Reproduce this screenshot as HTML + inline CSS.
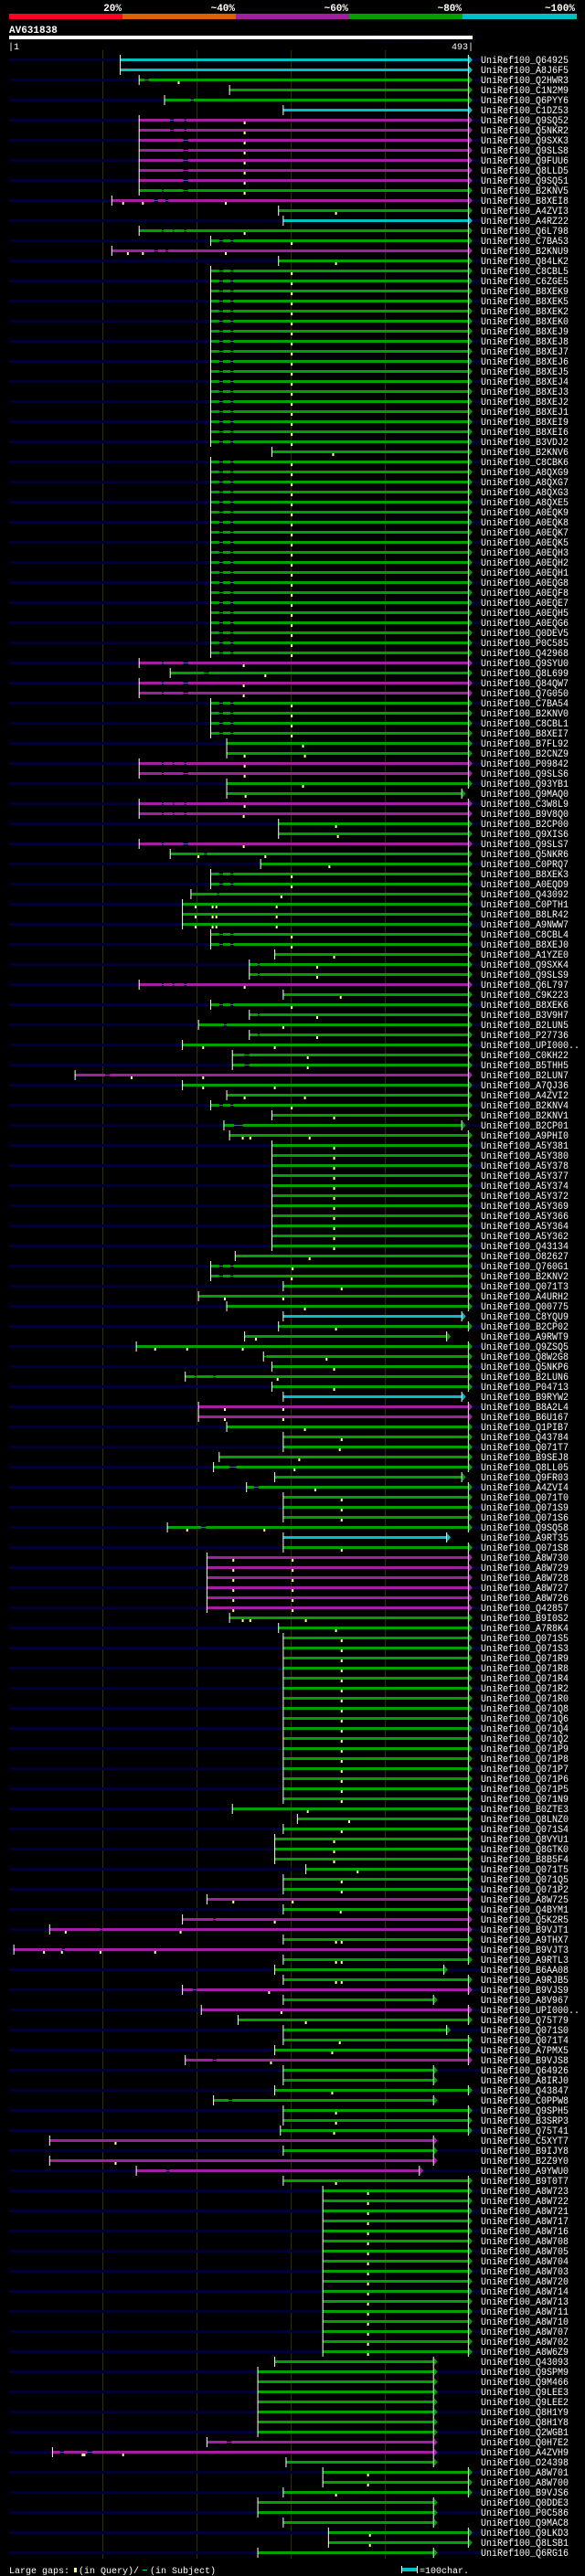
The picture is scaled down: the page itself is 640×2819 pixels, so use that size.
<!DOCTYPE html>
<html><head><meta charset="utf-8">
<style>
html,body{margin:0;padding:0;background:#000;}
svg{display:block;}
text{font-family:"Liberation Mono","DejaVu Sans Mono",monospace;}
</style></head>
<body>
<svg id="chart" width="640" height="2819" viewBox="0 0 640 2819" xmlns="http://www.w3.org/2000/svg">
<rect x="0" y="0" width="640" height="2819" fill="#000"/>
<g>
<text x="133" y="12" fill="#fff" font-size="11" font-weight="bold" text-anchor="end">20%</text>
<text x="257" y="12" fill="#fff" font-size="11" font-weight="bold" text-anchor="end">~40%</text>
<text x="381" y="12" fill="#fff" font-size="11" font-weight="bold" text-anchor="end">~60%</text>
<text x="505" y="12" fill="#fff" font-size="11" font-weight="bold" text-anchor="end">~80%</text>
<text x="629" y="12" fill="#fff" font-size="11" font-weight="bold" text-anchor="end">~100%</text>
<rect x="10" y="15" width="124" height="6" fill="#ff0022"/>
<rect x="134" y="15" width="124" height="6" fill="#e06000"/>
<rect x="258" y="15" width="124" height="6" fill="#a020a0"/>
<rect x="382" y="15" width="124" height="6" fill="#00a000"/>
<rect x="506" y="15" width="125" height="6" fill="#00c0c0"/>
</g>
<text x="10" y="36" fill="#fff" font-size="11" font-weight="bold">AV631838</text>
<text x="402" y="45" fill="#000044" font-size="9">AlignView.pm Beta rel.7</text>
<rect x="10" y="39" width="507" height="4" fill="#fff"/>
<text x="9" y="54" fill="#fff" font-size="10">|1</text>
<text x="518" y="54" fill="#fff" font-size="10" text-anchor="end">493|</text>
<g id="grid"></g>
<g id="rows"></g>
<g>
<text x="10" y="2816" fill="#fff" font-size="10">Large gaps:</text>
<rect x="81" y="2810" width="3" height="5" fill="#ffff80"/>
<text x="86" y="2816" fill="#fff" font-size="10">(in Query)/</text>
<rect x="156" y="2812" width="5" height="1" fill="#00c0c0"/>
<text x="164" y="2816" fill="#fff" font-size="10">(in Subject)</text>
<rect x="439" y="2808" width="1" height="8" fill="#fff"/>
<rect x="440" y="2810" width="16" height="4" fill="#00c0c0"/>
<rect x="456" y="2808" width="1" height="8" fill="#fff"/>
<text x="459" y="2816" fill="#fff" font-size="10">=100char.</text>
</g>
</svg>
<script>
const names=["Q64925","A8J6F5","Q2HWR3","C1N2M9","Q6PYY6","C1DZ53","Q9SQ52","Q5NKR2","Q9SXK3","Q9SLS8",
"Q9FUU6","Q8LLD5","Q9SQ51","B2KNV5","B8XEI8","A4ZVI3","A4RZ22","Q6L798","C7BA53","B2KNU9",
"Q84LK2","C8CBL5","C6ZGE5","B8XEK9","B8XEK5","B8XEK2","B8XEK0","B8XEJ9","B8XEJ8","B8XEJ7",
"B8XEJ6","B8XEJ5","B8XEJ4","B8XEJ3","B8XEJ2","B8XEJ1","B8XEI9","B8XEI6","B3VDJ2","B2KNV6",
"C8CBK6","A8QXG9","A8QXG7","A8QXG3","A8QXE5","A0EQK9","A0EQK8","A0EQK7","A0EQK5","A0EQH3",
"A0EQH2","A0EQH1","A0EQG8","A0EQF8","A0EQE7","A0EQH5","A0EQG6","Q0DEV5","P0C585","Q42968",
"Q9SYU0","Q8L699","Q84QW7","Q7G050","C7BA54","B2KNV0","C8CBL1","B8XEI7","B7FL92","B2CNZ9",
"P09842","Q9SLS6","Q93YB1","Q9MAQ0","C3W8L9","B9V8Q0","B2CP00","Q9XIS6","Q9SLS7","Q5NKR6",
"C0PRQ7","B8XEK3","A0EQD9","Q43092","C0PTH1","B8LR42","A9NWW7","C8CBL4","B8XEJ0","A1YZE0",
"Q9SXK4","Q9SLS9","Q6L797","C9K223","B8XEK6","B3V9H7","B2LUN5","P27736","UPI000..","C0KH22",
"B5THH5","B2LUN7","A7QJ36","A4ZVI2","B2KNV4","B2KNV1","B2CP01","A9PHI0","A5Y381","A5Y380",
"A5Y378","A5Y377","A5Y374","A5Y372","A5Y369","A5Y366","A5Y364","A5Y362","Q43134","O82627",
"Q760G1","B2KNV2","Q071T3","A4URH2","Q00775","C8YQU9","B2CP02","A9RWT9","Q9ZSQ5","Q8W2G8",
"Q5NKP6","B2LUN6","P04713","B9RYW2","B8A2L4","B6U167","Q1PIB7","Q43784","Q071T7","B9SEJ8",
"Q8LL05","Q9FR03","A4ZVI4","Q071T0","Q071S9","Q071S6","Q9SQ58","A9RT35","Q071S8","A8W730",
"A8W729","A8W728","A8W727","A8W726","Q42857","B9I0S2","A7R8K4","Q071S5","Q071S3","Q071R9",
"Q071R8","Q071R4","Q071R2","Q071R0","Q071Q8","Q071Q6","Q071Q4","Q071Q2","Q071P9","Q071P8",
"Q071P7","Q071P6","Q071P5","Q071N9","B0ZTE3","Q8LNZ0","Q071S4","Q8VYU1","Q8GTK0","B8B5F4",
"Q071T5","Q071Q5","Q071P2","A8W725","Q4BYM1","Q5K2R5","B9VJT1","A9THX7","B9VJT3","A9RTL3",
"B6AA08","A9RJB5","B9VJS9","A8V967","UPI000..","Q75T79","Q071S0","Q071T4","A7PMX5","B9VJS8",
"Q64926","A8IRJ0","Q43847","C0PPW8","Q9SPH5","B3SRP3","Q75T41","C5XYT7","B9IJY8","B2Z9Y0",
"A9YWU0","B9T0T7","A8W723","A8W722","A8W721","A8W717","A8W716","A8W708","A8W705","A8W704",
"A8W703","A8W720","A8W714","A8W713","A8W711","A8W710","A8W707","A8W702","A8W6Z9","Q43093",
"Q9SPM9","Q9M466","Q9LEE3","Q9LEE2","Q8H1Y9","Q8H1Y8","Q2WGB1","Q0H7E2","A4ZVH9","O24398",
"A8W701","A8W700","B9VJS6","Q0DDE3","P0C586","Q9MAC8","Q9LKD3","Q8LSB1","Q6RG16"];

const colorCodes="CCGGGCMMMM"+"MMMGMGCGGM"+"GGGGGGGGGG"+"GGGGGGGGGG"+"GGGGGGGGGG"+"GGGGGGGGGG"+
"MGMMGGGGGG"+"MMGGMMGGMG"+"GGGGGGGGGG"+"GGMGGGGGGG"+"GMGGGGGGGG"+"GGGGGGGGGG"+
"GGGGGCGGGG"+"GGGCMMGGGG"+"GGGGGGGCGM"+"MMMMMGGGGG"+"GGGGGGGGGG"+"GGGGGGGGGG"+
"GGGMGMMGMG"+"GGMGMGGGGM"+"GGGGGGGMGM"+"MGGGGGGGGG"+"GGGGGGGGGG"+"GGGGGGGMMG"+"GGGGGGGGG";

const starts=[119,119,139,235,166,292,139,139,139,139,
139,139,139,139,110,287,292,139,215,110,
287,215,215,215,215,215,215,215,215,215,
215,215,215,215,215,215,215,215,215,280,
215,215,215,215,215,215,215,215,215,215,
215,215,215,215,215,215,215,215,215,215,
139,172,139,139,215,215,215,215,232,232,
139,139,232,232,139,139,287,287,139,172,
268,215,215,194,185,185,185,215,215,283,
256,256,139,292,215,256,202,256,185,238,
238,71,185,232,215,280,229,235,280,280,
280,280,280,280,280,280,280,280,280,241,
215,215,292,202,232,292,287,251,136,271,
280,188,280,292,202,202,232,292,292,224,
218,283,253,292,292,292,169,292,292,211,
211,211,211,211,211,235,287,292,292,292,
292,292,292,292,292,292,292,292,292,292,
292,292,292,292,238,307,292,283,283,283,
316,292,292,211,292,185,44,292,6,292,
283,292,185,292,205,244,292,292,283,188,
292,292,283,218,292,292,289,44,292,44,
136,292,334,334,334,334,334,334,334,334,
334,334,334,334,334,334,334,334,334,283,
265,265,265,265,265,265,265,211,47,295,
334,334,292,265,265,292,340,340,265];

const ends=[488,488,488,488,488,488,488,488,488,488,
488,488,488,488,488,488,488,488,488,488,
488,488,488,488,488,488,488,488,488,488,
488,488,488,488,488,488,488,488,488,488,
488,488,488,488,488,488,488,488,488,488,
488,488,488,488,488,488,488,488,488,488,
488,488,488,488,488,488,488,488,488,488,
488,488,488,481,488,488,488,488,488,488,
488,488,488,488,488,488,488,488,488,488,
488,488,488,488,488,488,488,488,488,488,
488,488,488,488,488,488,481,488,488,488,
488,488,488,488,488,488,488,488,488,488,
488,488,488,488,488,481,488,465,488,488,
488,488,488,481,488,488,488,488,488,488,
488,481,488,488,488,488,488,465,488,488,
488,488,488,488,488,488,488,488,488,488,
488,488,488,488,488,488,488,488,488,488,
488,488,488,488,488,488,488,488,488,488,
488,488,488,488,488,488,488,488,488,488,
462,488,488,451,488,488,465,488,488,488,
451,451,488,451,488,488,488,451,451,451,
436,488,488,488,488,488,488,488,488,488,
488,488,488,488,488,488,488,488,488,451,
451,451,451,451,451,451,451,451,451,451,
488,488,488,451,451,451,488,488,451];

const N=[];
const GA=[[172,176],[187,189]];
const GB=[[186,191]];
const GC=[[163,165],[186,191]];
const GD=[[155,159],[167,170]];
const GE=[[163,165],[175,176],[187,189]];
const GF=[[224,228],[236,239]];
const GH=[[265,267]];
const GI=[[251,256]];
const subjectGaps=[N,N,[[145,149]],N,[[194,197]],N,GA,GA,GB,GB,
GB,GB,GB,GC,GD,N,N,GE,GF,GD,
N,GF,GF,GF,GF,GF,GF,GF,GF,GF,
GF,GF,GF,GF,GF,GF,GF,GF,GF,N,
GF,GF,GF,GF,GF,GF,GF,GF,GF,GF,
GF,GF,GF,GF,GF,GF,GF,GF,GF,GF,
GC,[[208,213]],GC,GC,GF,GF,GF,GF,N,N,
GE,GC,N,N,GE,GE,N,N,GC,[[208,211]],
N,GF,GF,[[222,224]],N,N,N,GF,GF,N,
GH,GH,GE,N,GF,GH,[[229,232]],GH,N,GI,
GI,[[103,108]],N,N,GF,N,[[240,249]],N,N,N,
N,N,N,N,N,N,N,N,N,N,
GF,GF,N,N,N,N,N,N,N,[[272,274]],
N,[[198,200],[218,220]],N,N,N,N,N,N,N,N,
[[235,242]],N,[[261,266]],N,N,N,[[205,210]],N,N,N,
N,N,N,N,N,N,N,N,N,N,
N,N,N,N,N,N,N,N,N,N,
N,N,N,N,N,N,N,N,N,N,
N,N,N,N,N,[[218,220]],[[98,100]],N,[[57,60]],N,
N,N,[[196,200]],N,N,N,N,N,N,[[217,221]],
N,N,N,[[234,238]],N,N,N,N,N,N,
[[168,171]],N,N,N,N,N,N,N,N,N,
N,N,N,N,N,N,N,N,N,N,
N,N,N,N,N,N,N,[[232,237]],[[55,59],[84,89]],N,
N,N,N,N,N,N,N,N,N];

const Q1=[251],Q2=[301],Q3=[346],Q4=[354],Q5=[382],Q6=[239,302];
const queryGaps=[N,N,[181],N,N,N,Q1,Q1,Q1,Q1,
Q1,Q1,Q1,Q1,[122,143,231],[348],N,Q1,Q2,[127,143,231],
[348],Q2,Q2,Q2,Q2,Q2,Q2,Q2,Q2,Q2,
Q2,Q2,Q2,Q2,Q2,Q2,Q2,Q2,Q2,[345],
Q2,Q2,Q2,Q2,Q2,Q2,Q2,Q2,Q2,Q2,
Q2,Q2,Q2,Q2,Q2,Q2,Q2,Q2,Q2,Q2,
[250],[273],[250],[250],Q2,Q2,Q2,Q2,[313],[251,315],
Q1,Q1,[313],[252],Q1,[250],[348],[350],[250],[202,273],
[341],Q2,Q2,[290],[199,217,221,285],[199,217,221,285],[199,217,221,285],Q2,Q2,Q3,
[328],[328],Q1,[353],Q2,[328],[292],[328],[207,283],[318],
[318],[131,207],[207,283],[251,315],Q2,Q3,N,[249,257,320],Q3,Q3,
Q3,Q3,Q3,Q3,Q3,Q3,Q3,Q3,Q3,[320],
[302],Q2,Q4,[230,292],[315],N,[348],[263],[156,190,249],[338],
Q3,[286],Q3,N,[230,292],[230,292],[315],Q4,[352],[309],
[304],N,[326],Q4,Q4,Q4,[190,272],N,Q4,Q6,
Q6,Q6,Q6,Q6,Q6,[249,257,316],[348],Q4,Q4,Q4,
Q4,Q4,Q4,Q4,Q4,Q4,Q4,Q4,Q4,Q4,
Q4,Q4,Q4,Q4,[318],[362],Q4,Q3,Q3,Q3,
[371],Q4,Q4,Q6,[353],[283],[61,183],[348,354],[38,57,98,156],[348,354],
N,[348,354],[277],N,[290],[316],N,[352],[344],[279],
N,N,[344],N,[348],[348],[346],[114],N,[114],
N,[348],Q5,Q5,Q5,Q5,Q5,Q5,Q5,Q5,
Q5,Q5,Q5,Q5,Q5,Q5,Q5,Q5,Q5,N,
N,N,N,N,N,N,N,N,[79,81,122],N,
Q5,Q5,[348],N,N,N,[384],[384],N];

const gridTicks=[100,200,300,400];

const NS="http://www.w3.org/2000/svg";
const palette={C:"#00c0c0",G:"#00a000",M:"#a020a0"};
function X(aa){return 10+(aa-1)*1.0305;}
function rowY(i){return 65+i*11;}
function mk(tag,attrs,parent){const e=document.createElementNS(NS,tag);for(const k in attrs)e.setAttribute(k,attrs[k]);parent.appendChild(e);return e;}

const grid=document.getElementById('grid');
gridTicks.forEach(t=>{
  const l=mk('rect',{x:X(t),y:55,width:1,height:2745,fill:'#333300'},grid);
  
  
});

const rows=document.getElementById('rows');
for(let i=0;i<names.length;i++){
  const y=rowY(i);
  const col=palette[colorCodes[i]]||"#00a000";
  const g=mk('g',{},rows);
  
  
  if(i%2===0){
    const bg=mk('rect',{x:10,y:y-1,width:517,height:3,fill:'#000033'},g);
    
    
  }
  const xs=X(starts[i]),xe=X(ends[i]);
  const thin=mk('rect',{x:xs,y:y,width:xe-xs,height:1,fill:col},g);
  
  
  let cur=starts[i];
  const segs=[];
  subjectGaps[i].forEach(gp=>{segs.push([cur,gp[0]]);cur=gp[1];});
  segs.push([cur,ends[i]]);
  segs.forEach(s=>{
    const b=mk('rect',{x:X(s[0]),y:y-1,width:Math.max(0,X(s[1])-X(s[0])),height:3,fill:col},g);
    
    
  });
  const st=mk('rect',{x:xs-0.5,y:y-5,width:1,height:11,fill:'#fff'},g);
  
  
  const et=mk('rect',{x:xe,y:y-5,width:1,height:11,fill:'#fff'},g);
  
  
  const ar=mk('polygon',{points:(xe+1)+','+(y-4)+' '+(xe+5)+','+(y+0.5)+' '+(xe+1)+','+(y+5),fill:col},g);
  
  
  queryGaps[i].forEach(q=>{
    const m=mk('rect',{x:X(q)-1,y:y+2,width:2,height:3,fill:'#ffff80'},g);
    
    
  });
  const label="UniRef100_"+names[i];
  const t=mk('text',{x:526,y:y+4,fill:'#fff','font-size':11,textLength:label.length*6,lengthAdjust:'spacingAndGlyphs'},g);
  t.textContent=label;
  
  
}
</script>
</body></html>
